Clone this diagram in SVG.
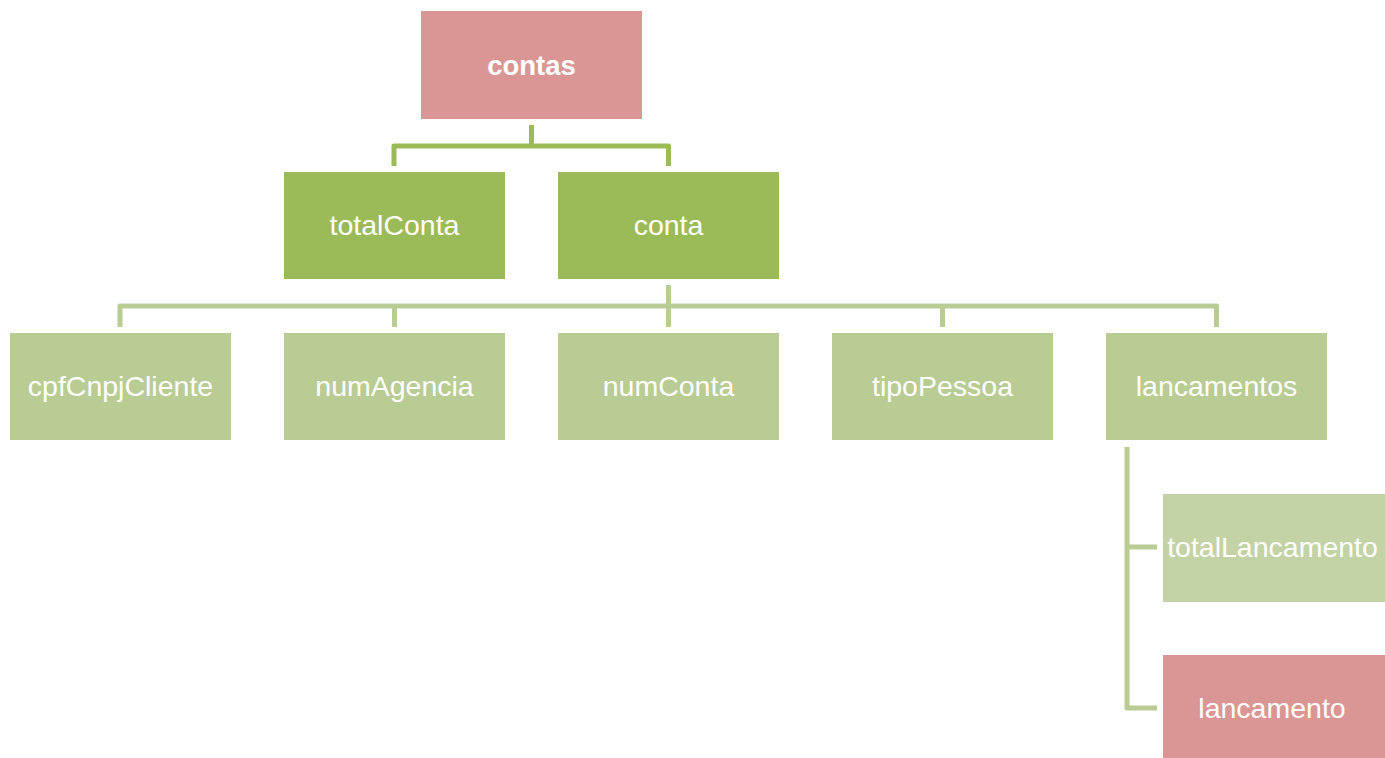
<svg xmlns="http://www.w3.org/2000/svg" width="1385" height="758" viewBox="0 0 1385 758">
<style>
text{font-family:"Liberation Sans",Arial,sans-serif;font-size:28.5px;fill:#fff;text-anchor:middle}
.b{font-weight:bold;font-size:27.5px}
.red{fill:#da9694}
.dg{fill:#9bbb59}
.lg{fill:#b8cc94}
.xg{fill:#c3d3a5}
.c1{fill:none;stroke:#9bbb59;stroke-width:5;stroke-linejoin:round}
.c2{fill:none;stroke:#b8cc94;stroke-width:5;stroke-linejoin:round}
</style>
<rect width="1385" height="758" fill="#fff"/>
<g id="connectors">
<path class="c1" d="M531.5,125V146M394,166V146H668.5V166"/>
<path class="c2" d="M668.5,285V306M120,327V306H1216.5V327M394.5,306V327M668.5,306V327M942.5,306V327"/>
<path class="c2" d="M1127,447V708H1157M1127,547H1157"/>
</g>
<g id="contas"><rect class="red" x="421" y="11" width="221" height="108"/><text class="b" x="531.5" y="75">contas</text></g>
<g id="totalConta"><rect class="dg" x="284" y="172" width="221" height="107"/><text x="394.5" y="235">totalConta</text></g>
<g id="conta"><rect class="dg" x="558" y="172" width="221" height="107"/><text x="668.5" y="235">conta</text></g>
<g id="cpfCnpjCliente"><rect class="lg" x="10" y="333" width="221" height="107"/><text x="120.5" y="396">cpfCnpjCliente</text></g>
<g id="numAgencia"><rect class="lg" x="284" y="333" width="221" height="107"/><text x="394.5" y="396">numAgencia</text></g>
<g id="numConta"><rect class="lg" x="558" y="333" width="221" height="107"/><text x="668.5" y="396">numConta</text></g>
<g id="tipoPessoa"><rect class="lg" x="832" y="333" width="221" height="107"/><text x="942.5" y="396">tipoPessoa</text></g>
<g id="lancamentos"><rect class="lg" x="1106" y="333" width="221" height="107"/><text x="1216.5" y="396">lancamentos</text></g>
<g id="totalLancamento"><rect class="xg" x="1163" y="494" width="222" height="108"/><text x="1272.5" y="557">totalLancamento</text></g>
<g id="lancamento"><rect class="red" x="1163" y="655" width="222" height="108"/><text x="1272" y="718">lancamento</text></g>
</svg>
